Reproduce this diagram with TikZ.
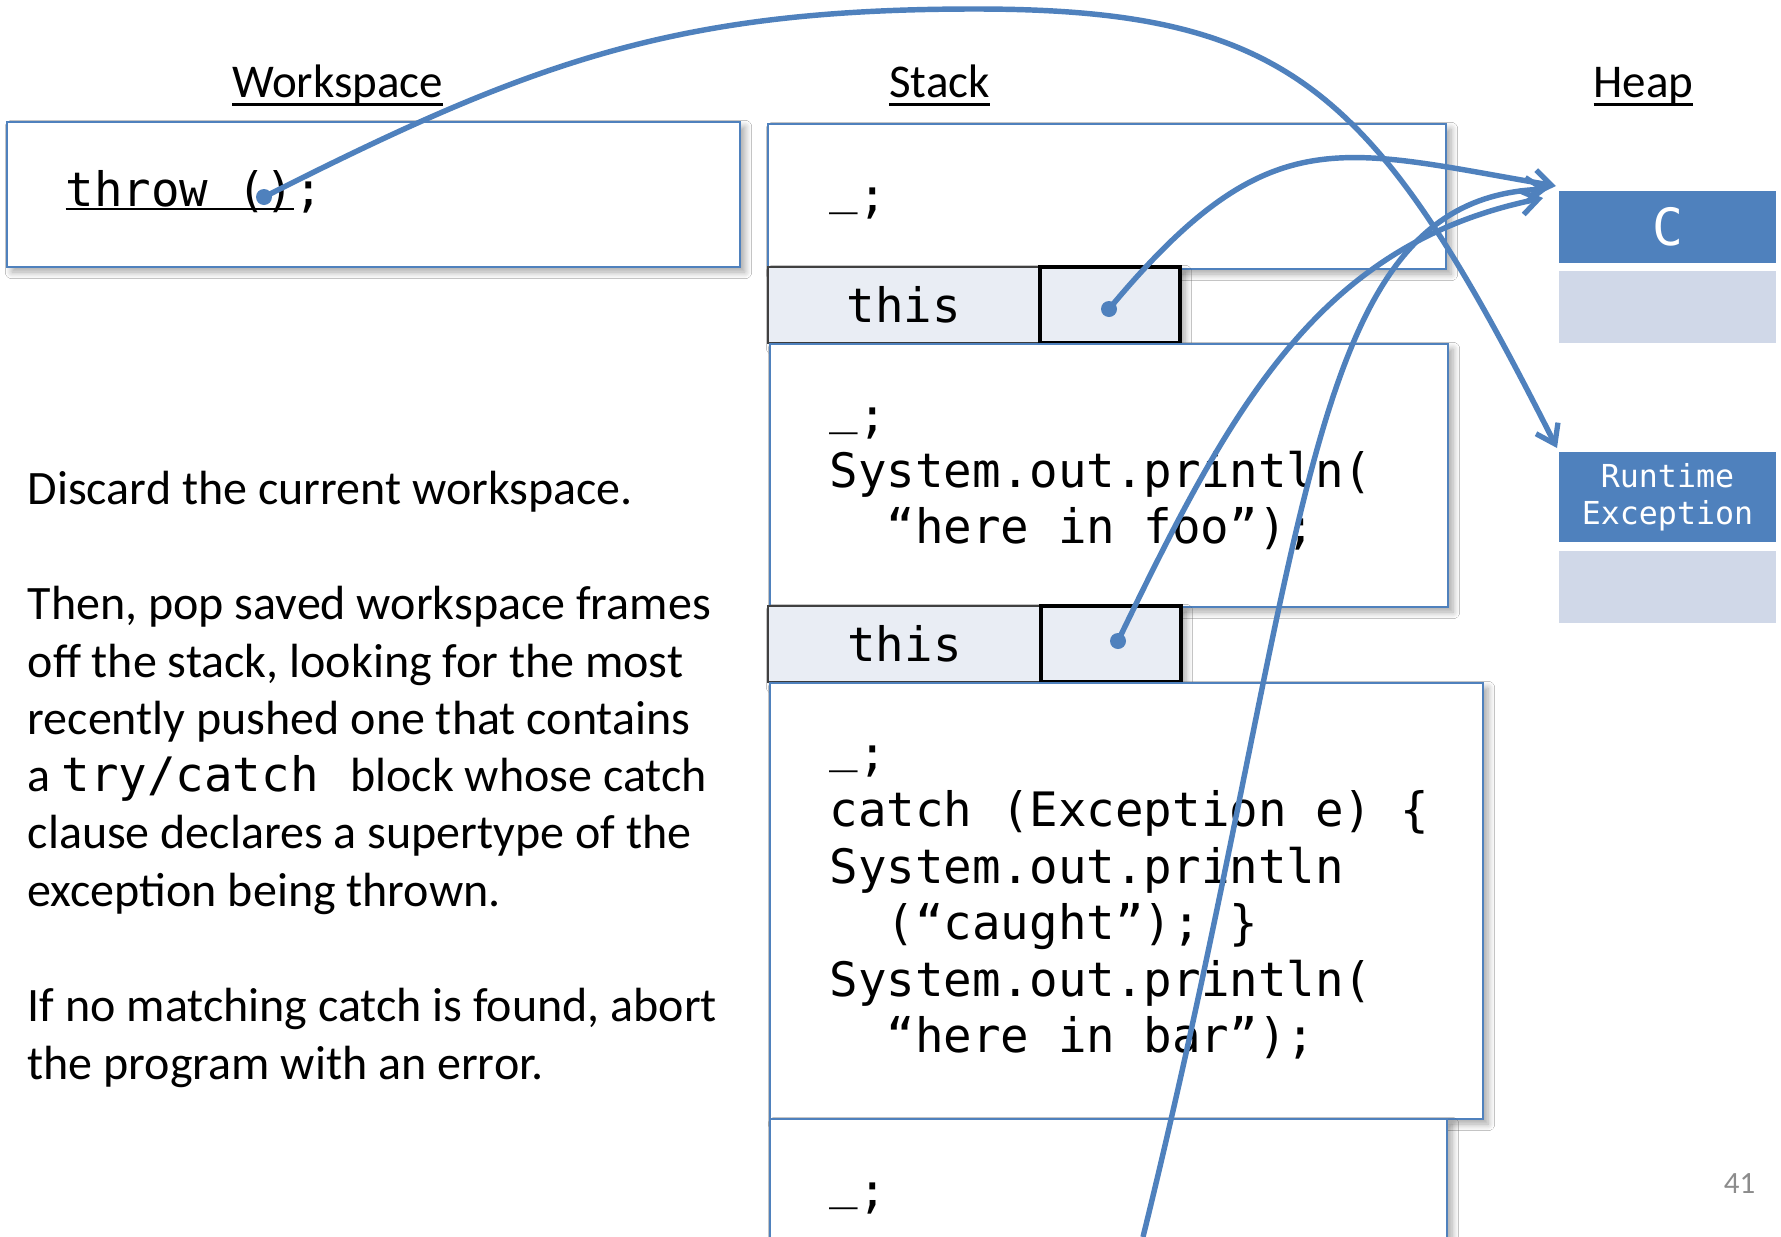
\documentclass[tikz,border=0pt]{standalone}
\usepackage{fontspec}
\setmainfont{Carlito}
\newfontfamily\codefont{DejaVu Sans Mono}
\usetikzlibrary{arrows.meta,shadows.blur}

\definecolor{accent}{HTML}{4F81BD}
\definecolor{slotfill}{HTML}{E9EDF4}
\definecolor{heaplight}{HTML}{D0D8E8}
\definecolor{pagegray}{HTML}{8C8C8C}

% font sizes (1 unit of the picture = 0.1mm)
\newcommand\bodysize{\fontsize{13.66pt}{16pt}\selectfont}
\newcommand\headsize{\fontsize{13.37pt}{16pt}\selectfont}
\newcommand\codesize{\fontsize{13.5pt}{16pt}\selectfont}
\newcommand\objsize{\fontsize{9pt}{10.5pt}\selectfont}
\newcommand\clssize{\fontsize{14.6pt}{17pt}\selectfont}
\newcommand\pgnsize{\fontsize{8.8pt}{10pt}\selectfont}

% underline with a chosen drop below the baseline
\newcommand\undl[3]{\setbox0=\hbox{#3}\rlap{\rule[-#1]{\wd0}{#2}}\box0}
% blank placeholder, sitting on the baseline
\newcommand\blank{\raisebox{0.17em}{\_}}

\tikzset{
  frame/.style={rectangle, draw=accent, line width=0.5pt, fill=white,
    inner sep=0pt, outer sep=0pt, anchor=north west,
    blur shadow={shadow xshift=0.5mm, shadow yshift=-0.5mm,
      shadow blur steps=6, shadow opacity=35}},
  slotname/.style={rectangle, draw=black!75, line width=0.6pt, fill=slotfill,
    inner sep=0pt, outer sep=0pt, anchor=north west,
    font=\codefont\codesize,
    blur shadow={shadow xshift=0.5mm, shadow yshift=-0.5mm,
      shadow blur steps=6, shadow opacity=35}},
  slotval/.style={rectangle, draw=black, line width=0.95pt, fill=slotfill,
    inner sep=0pt, outer sep=0pt, anchor=north west,
    blur shadow={shadow xshift=0.5mm, shadow yshift=-0.5mm,
      shadow blur steps=6, shadow opacity=35}},
  objhead/.style={rectangle, fill=accent, text=white, inner sep=0pt,
    outer sep=0pt, anchor=north west, minimum width=21.7mm},
  objbody/.style={rectangle, fill=heaplight, inner sep=0pt, outer sep=0pt,
    anchor=north west, minimum width=21.7mm, minimum height=7.2mm},
  code/.style={anchor=base west, inner sep=0pt, font=\codefont\codesize},
  prose/.style={anchor=base west, inner sep=0pt, font=\bodysize},
  header/.style={anchor=base, inner sep=0pt, font=\headsize},
  ref/.style={draw=accent, line width=1.55pt,
    -{Straight Barb[length=5pt,width=7pt,line width=1.5pt]}},
  refdot/.style={circle, fill=accent, inner sep=0pt, minimum size=1.6mm},
}

\begin{document}
\begin{tikzpicture}[x=0.1mm, y=-0.1mm]
\useasboundingbox (0,0) rectangle (1781,1237);
\fill[white] (0,0) rectangle (1781,1237);

% column headers
\node[header] (hws) at (337.5,97) {\undl{0.2em}{0.065em}{Workspace}};
\node[header] (hst) at (939.5,97) {\undl{0.2em}{0.065em}{Stack}};
\node[header] (hhp) at (1643.5,97) {\undl{0.2em}{0.065em}{Heap}};

% workspace
\node[frame, minimum width=73.3mm, minimum height=14.5mm] (ws) at (7,122) {};
\node[code] (wstext) at (65,206) {\undl{0.09em}{0.055em}{throw ()};};

% explanation
\node[prose] (p1) at (27,504) {Discard the current workspace.};
\node[prose] (p2) at (27,619) {Then, pop saved workspace frames};
\node[prose] (p3) at (27,677) {off the stack, looking for the most};
\node[prose] (p4) at (27,734) {recently pushed one that contains};
\node[prose] (p5) at (27,791) {a {\codefont\codesize try/catch}\hspace{2.1mm} block whose catch};
\node[prose] (p6) at (27,848) {clause declares a supertype of the};
\node[prose] (p7) at (27,906) {exception being thrown.};
\node[prose] (p8) at (27,1021) {If no matching catch is found, abort};
\node[prose] (p9) at (27,1079) {the program with an error.};

% stack: saved frames and their this slots
\node[frame, minimum width=67.8mm, minimum height=14.5mm] (fr1) at (768,124) {};
\node[code] (fr1a) at (829,212) {\blank;};

\node[slotname, minimum width=27.2mm, minimum height=7.6mm] (sn1) at (768,267) {this};
\node[slotval, minimum width=14mm, minimum height=7.6mm] (sv1) at (1040,267) {};

\node[frame, minimum width=67.8mm, minimum height=26.3mm] (fr2) at (770,344) {};
\node[code] (fr2a) at (829,432) {\blank;};
\node[code] (fr2b) at (829,487) {System.out.println(};
\node[code] (fr2c) at (886,543) {“here in foo”);};

\node[slotname, minimum width=27.3mm, minimum height=7.6mm] (sn2) at (768,606) {this};
\node[slotval, minimum width=14mm, minimum height=7.6mm] (sv2) at (1041,606) {};

\node[frame, minimum width=71.3mm, minimum height=43.6mm] (fr3) at (770,683) {};
\node[code] (fr3a) at (829,770) {\blank;};
\node[code] (fr3b) at (829,826) {catch (Exception e) \{};
\node[code] (fr3c) at (829,883) {System.out.println};
\node[code] (fr3d) at (886,939) {(“caught”); \}};
\node[code] (fr3e) at (829,996) {System.out.println(};
\node[code] (fr3f) at (886,1052) {“here in bar”);};

\node[frame, minimum width=67.7mm, minimum height=16mm] (fr4) at (770,1119) {};
\node[code] (fr4a) at (829,1207) {\blank;};

% heap objects
\node[objhead, minimum height=7.2mm, font=\codefont\clssize] (objc) at (1559,191) {C};
\node[objbody] (objcf) at (1559,271) {};
\node[objhead, minimum height=9mm, align=center, font=\codefont\objsize] (objr) at (1559,452) {Runtime\\Exception};
\node[objbody] (objrf) at (1559,551) {};

% page number
\node[anchor=base east, inner sep=0pt, text=pagegray, font=\pgnsize] (pgn) at (1756,1193) {41};

% reference dots
\node[refdot] (dthrow) at (264,197) {};
\node[refdot] (dthis1) at (1109,309) {};
\node[refdot] (dthis2) at (1118,641) {};

% free ends and bends of the references
\coordinate (below) at (1143,1237);
\coordinate (cin1) at (1556,186);
\coordinate (cin2) at (1548,189);
\coordinate (cin3) at (1543,198);
\coordinate (rin) at (1557,448);
\coordinate (apex) at (975,9);

% references
\draw[ref] (dthis1.center) .. controls +(160,-192.5) and +(-217,-37) .. (cin1);
\draw[ref] (dthis2.center) .. controls +(113,-234) and +(-225,46) .. (cin3);
\draw[ref] (below) .. controls +(170,-690) and +(-250,10) .. (cin2);
\draw[ref] (dthrow.center) .. controls +(267,-135) and +(-300,0) .. (apex)
  .. controls +(320,0) and +(-180,-356) .. (rin);
\end{tikzpicture}
\end{document}
